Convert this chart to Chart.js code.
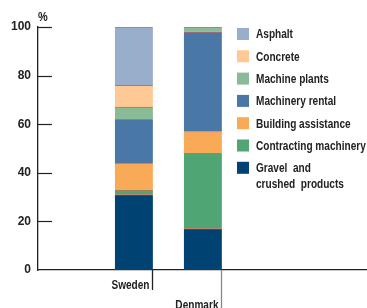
<!DOCTYPE html>
<html>
<head>
<meta charset="utf-8">
<script src="https://cdn.jsdelivr.net/npm/chart.js@4"></script>
<style>
  html, body { margin: 0; padding: 0; background: #fff; }
  #wrap { position: relative; width: 367px; height: 308px; }
</style>
</head>
<body>
<div id="wrap"><canvas id="materialChart" width="367" height="308"></canvas></div>
<script>
const countries = ['Sweden', 'Denmark'];
const segments = ['Gravel and crushed products', 'Contracting machinery', 'Building assistance',
    'Machinery rental', 'Machine plants', 'Concrete', 'Asphalt'];
const gravel = [31, 17];
const contracting = [2, 31];
const building = [11, 9];
const rental = [18, 41];
const plants = [5, 2];
const concrete = [9, 0];
const asphalt = [24, 0];
const yTicks = [0, 20, 40, 60, 80, 100];

const seriesValues = [gravel, contracting, building, rental, plants, concrete, asphalt];
const colours = ['#004272', '#4fa574', '#f8aa57', '#4a78a6', '#8abb97', '#fec995', '#99aecb'];
const legendLines = {
    'Gravel and crushed products': ['Gravel  and', 'crushed  products']
};
const FONT = "'Liberation Sans', Arial, sans-serif";
const SQUEEZE = 0.84;   // the original uses a condensed face
const X_MIN = -1.39, X_MAX = 3.38;

const datasets = segments.map(function (name, s) {
    return {
        label: name,
        data: countries.map(function (c, i) { return { x: i, y: seriesValues[s][i] }; }),
        backgroundColor: colours[s],
        borderColor: '#e8604c',
        borderWidth: { top: 1, right: 0, bottom: 0, left: 0 },
        borderSkipped: false,
        barThickness: 38
    };
});

function narrowText(ctx, txt, x, y, align) {
    ctx.save();
    ctx.translate(x, y);
    ctx.scale(SQUEEZE, 1);
    ctx.textAlign = align;
    ctx.fillText(txt, 0, 0);
    ctx.restore();
}

const extras = {
    id: 'extras',
    afterDraw: function (chart) {
        const ctx = chart.ctx;
        const x = chart.scales.x;
        const y = chart.scales.y;
        const area = chart.chartArea;
        ctx.save();

        // inward tick marks
        ctx.strokeStyle = '#222';
        ctx.lineWidth = 1.2;
        yTicks.forEach(function (t) {
            if (t === 0) return;
            const py = Math.round(y.getPixelForValue(t)) + 0.5;
            ctx.beginPath();
            ctx.moveTo(area.left, py);
            ctx.lineTo(area.left + 14, py);
            ctx.stroke();
        });

        // unit
        ctx.fillStyle = '#222';
        ctx.font = 'bold 13px ' + FONT;
        ctx.textBaseline = 'alphabetic';
        narrowText(ctx, '%', area.left, 21, 'left');

        // staggered category labels with leader lines
        const drops = [20, 40];
        const lineCols = ['#222', '#888'];
        ctx.font = 'bold 12px ' + FONT;
        countries.forEach(function (c, i) {
            const lx = Math.round(x.getPixelForValue(i) + 19) - 0.5;
            ctx.strokeStyle = lineCols[i];
            ctx.lineWidth = 1.3;
            ctx.beginPath();
            ctx.moveTo(lx, area.bottom);
            ctx.lineTo(lx, area.bottom + drops[i]);
            ctx.stroke();
            ctx.fillStyle = '#222';
            narrowText(ctx, c, lx - 3, area.bottom + drops[i] - 1, 'right');
        });

        // legend, top segment first
        ctx.font = 'bold 12px ' + FONT;
        ctx.textBaseline = 'middle';
        let rowY = 34;
        for (let s = segments.length - 1; s >= 0; s--) {
            ctx.fillStyle = colours[s];
            ctx.fillRect(237, rowY - 6, 12, 12);
            ctx.fillStyle = '#222';
            const lines = legendLines[segments[s]] || [segments[s]];
            lines.forEach(function (ln, k) {
                narrowText(ctx, ln, 256, rowY + 1 + k * 16, 'left');
            });
            rowY += 22.3;
        }
        ctx.restore();
    }
};

const ctxEl = document.getElementById('materialChart').getContext('2d');
const materialChart = new Chart(ctxEl, {
    type: 'bar',
    data: { datasets: datasets },
    options: {
        responsive: false,
        animation: false,
        layout: { padding: { top: 27, bottom: 38, left: 0, right: 0 } },
        plugins: {
            legend: { display: false },
            tooltip: { enabled: false }
        },
        scales: {
            x: {
                type: 'linear',
                stacked: true,
                offset: false,
                bounds: 'data',
                min: X_MIN,
                max: X_MAX,
                grid: { display: false, drawTicks: false },
                border: { display: true, color: '#222', width: 1.3 },
                ticks: { display: false },
                afterBuildTicks: function (scale) {
                    scale.ticks = countries.map(function (c, i) { return { value: i }; });
                    scale.min = X_MIN;
                    scale.max = X_MAX;
                },
                afterFit: function (scale) { scale.height = 0; }
            },
            y: {
                stacked: true,
                min: 0,
                max: 100,
                grid: { display: false, drawTicks: false },
                border: { display: true, color: '#222', width: 1.3 },
                afterBuildTicks: function (scale) {
                    scale.ticks = yTicks.map(function (v) { return { value: v }; });
                },
                ticks: {
                    padding: 7,
                    color: '#222',
                    font: { family: "'Liberation Sans Narrow', " + FONT, size: 12, weight: 'bold' }
                },
                afterFit: function (scale) { scale.width = 38; }
            }
        }
    },
    plugins: [extras]
});
</script>
</body>
</html>
